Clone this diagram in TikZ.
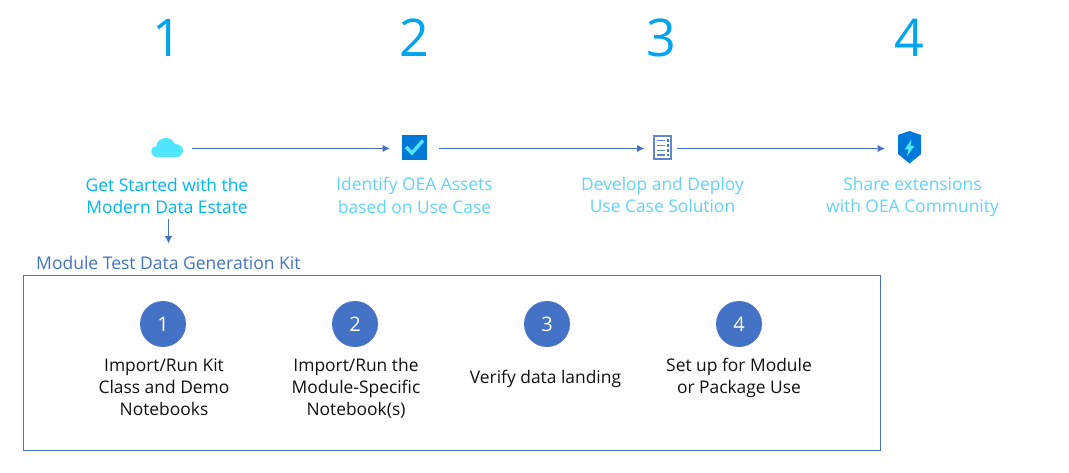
\documentclass[tikz,border=0pt]{standalone}
\usepackage{fontspec}
\setmainfont{Open Sans}
\usetikzlibrary{arrows.meta}
\definecolor{numblue}{HTML}{00A4EF}
\definecolor{titleblue}{HTML}{00B7F5}
\definecolor{palecyan}{HTML}{62D4FA}
\definecolor{linkblue}{HTML}{4472C4}
\definecolor{azure}{HTML}{0078D7}
\definecolor{skycyan}{HTML}{50E6FF}
\definecolor{inkblack}{HTML}{111111}
\tikzset{
  bignum/.style={text=numblue,font=\fontsize{52}{56}\selectfont,inner sep=0pt},
  steptitle/.style={align=center,font=\fontsize{17.4}{22.5}\selectfont,inner sep=0pt},
  icon/.style={inner sep=0pt,outer sep=0pt,minimum height=26pt},
  flow/.style={linkblue,line width=1.2pt,-{Latex[length=7.5pt,width=7.5pt]}},
  kitcircle/.style={circle,fill=linkblue,minimum size=46pt,inner sep=0pt,text=white,font=\fontsize{20}{24}\selectfont},
  kittext/.style={align=center,text=inkblack,font=\fontsize{17.4}{22}\selectfont,inner sep=0pt},
}
\begin{document}
\begin{tikzpicture}[x=1pt,y=-1pt]
\useasboundingbox (0,0) rectangle (1069,473);
\fill[white] (0,0) rectangle (1069,473);
\node[bignum] (n1) at (167,38) {1};
\node[bignum] (n2) at (414,38) {2};
\node[bignum] (n3) at (661,38) {3};
\node[bignum] (n4) at (909,38) {4};
% icons
\node[icon,minimum width=50pt] (cloud) at (167,148.5) {};
\fill[skycyan] (157,157) .. controls (150,157) and (149,147) .. (156,146.5)
  .. controls (157,141) and (161,138) .. (166,138)
  .. controls (170,138) and (173,140) .. (175,144)
  .. controls (180,144) and (183,147) .. (183,150.5)
  .. controls (183,154) and (180,157) .. (177,157) -- cycle;
\node[icon,fill=azure,minimum width=25pt,minimum height=25pt] (check) at (414.5,147.5) {};
\draw[skycyan,line width=3.4pt] (406,147) -- (412,153) -- (423,140.5);
\node[icon,minimum width=29pt] (list) at (662.5,148.5) {};
\draw[linkblue!85!white,line width=1.3pt,fill=white] (654,136) rectangle (671,159);
\foreach \yy in {140.5,145.5,150.5,155}{
  \draw[linkblue!85!white,line width=1.2pt] (657,\yy) -- (665,\yy);
  \fill[linkblue] (667,\yy-1.2) rectangle (669.2,\yy+1.2);
}
\node[icon,minimum width=24pt,minimum height=33pt] (shield) at (909.5,148.5) {};
\fill[azure] (909.5,131) -- (921,135) -- (921,154) -- (909.5,163.5) -- (898,154) -- (898,135) -- cycle;
\fill[skycyan] (911.5,139.5) -- (904.5,149.5) -- (908.5,149.5) -- (907,156) -- (914.5,146) -- (910.5,146) -- cycle;
% arrows
\draw[flow,shorten >=12pt] (cloud.east) -- (cloud.east -| check.west);
\draw[flow,shorten >=3.5pt,shorten <=12pt] (check.east |- list.west) -- (list.west);
\draw[flow,shorten >=12.5pt] (list.east) -- (shield.west);
% titles
\node[steptitle,text=titleblue] (t1) at (167,196) {Get Started with the\\Modern Data Estate};
\node[steptitle,text=palecyan] (t2) at (414.5,195.5) {Identify OEA Assets\\based on Use Case};
\node[steptitle,text=palecyan] (t3) at (662.5,195) {Develop and Deploy\\Use Case Solution};
\node[steptitle,text=palecyan] (t4) at (912.5,197) {Share extensions\\with OEA Community};
% kit
\node[anchor=west,text=linkblue,font=\fontsize{17.5}{20}\selectfont,inner sep=0pt] (kit) at (36,262.5) {Module Test Data Generation Kit};
\coordinate (downA) at (168.5,219);
\coordinate (downB) at (168.5,243.5);
\draw[flow] (downA) -- (downB);
\node[draw=linkblue,line width=1pt,minimum width=857pt,minimum height=174pt,inner sep=0pt] (frame) at (452,363) {};
\node[kitcircle] (c1) at (163,324) {1};
\node[kitcircle] (c2) at (355,324) {2};
\node[kitcircle] (c3) at (547,324) {3};
\node[kitcircle] (c4) at (739,324) {4};
\node[kittext] (k1) at (164,387) {Import/Run Kit\\Class and Demo\\Notebooks};
\node[kittext] (k2) at (356,388.5) {Import/Run the\\Module-Specific\\Notebook(s)};
\node[kittext] (k3) at (545.5,379) {Verify data landing};
\node[kittext] (k4) at (739,378) {Set up for Module\\or Package Use};
\end{tikzpicture}
\end{document}
